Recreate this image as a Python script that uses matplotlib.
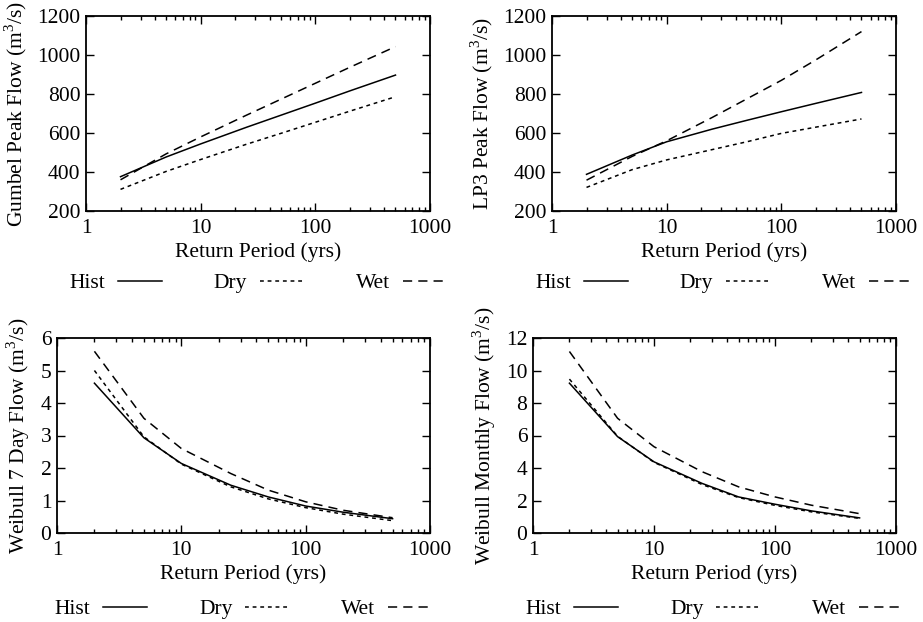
import numpy as np
import matplotlib
matplotlib.use("Agg")
import matplotlib.pyplot as plt

plt.rcParams['font.family'] = ['Liberation Serif', 'DejaVu Serif']
plt.rcParams['mathtext.fontset'] = 'custom'
plt.rcParams['mathtext.rm'] = 'Liberation Serif'
plt.rcParams['font.size'] = 15.5

# return periods (yrs)
periods = [2, 5, 10, 25, 50, 100, 200, 500]

# Gumbel peak flow (m3/s)
gumbel_hist = [376, 477, 544, 629, 691, 753, 816, 897]
gumbel_dry = [311, 403, 464, 542, 598, 655, 712, 786]
gumbel_wet = [360, 493, 580, 691, 773, 855, 937, 1043]

# LP3 peak flow (m3/s)
lp3_hist = [388, 487, 555, 620, 665, 709, 752, 808]
lp3_dry = [321, 412, 462, 515, 555, 598, 630, 672]
lp3_wet = [358, 480, 560, 680, 775, 870, 975, 1120]

# Weibull 7 day flow (m3/s)
w7_hist = [4.61, 2.93, 2.14, 1.47, 1.11, 0.83, 0.64, 0.44]
w7_dry = [5.00, 2.96, 2.12, 1.42, 1.05, 0.78, 0.58, 0.38]
w7_wet = [5.59, 3.53, 2.60, 1.83, 1.32, 0.96, 0.70, 0.47]

# Weibull monthly flow (m3/s)
wm_hist = [9.22, 5.93, 4.38, 3.05, 2.22, 1.77, 1.36, 0.93]
wm_dry = [9.47, 5.95, 4.35, 2.98, 2.18, 1.70, 1.30, 0.90]
wm_wet = [11.17, 7.06, 5.31, 3.77, 2.84, 2.22, 1.71, 1.19]

panels = [
    ("Gumbel Peak Flow", gumbel_hist, gumbel_dry, gumbel_wet, (200, 1200), np.arange(200, 1201, 200)),
    ("LP3 Peak Flow", lp3_hist, lp3_dry, lp3_wet, (200, 1200), np.arange(200, 1201, 200)),
    ("Weibull 7 Day Flow", w7_hist, w7_dry, w7_wet, (0, 6), np.arange(0, 7, 1)),
    ("Weibull Monthly Flow", wm_hist, wm_dry, wm_wet, (0, 12), np.arange(0, 13, 2)),
]

W, H = 923, 622
# axes boxes in pixels: left, top, right, bottom
boxes = [(86, 16, 430, 211), (552, 16, 896, 211), (57, 338, 430, 533), (533, 338, 896, 533)]
legend_y = [283, 283, 609, 609]

fig = plt.figure(figsize=(W / 100, H / 100), dpi=100)

for (name, hist, dry, wet, ylim, yt), (l, t, r, b), ly in zip(panels, boxes, legend_y):
    ax = fig.add_axes([l / W, 1 - b / H, (r - l) / W, (b - t) / H])
    ax.plot(periods, hist, color='black', lw=1.1, label='Hist')
    ax.plot(periods, dry, color='black', lw=1.1, dashes=(2.5, 2.5), label='Dry')
    ax.plot(periods, wet, color='black', lw=1.1, dashes=(6, 4), label='Wet')
    ax.set_xscale('log')
    ax.set_xlim(1, 1000)
    ax.set_ylim(*ylim)
    ax.set_yticks(yt)
    ax.set_xticks([1, 10, 100, 1000])
    ax.set_xticklabels(['1', '10', '100', '1000'])
    ax.tick_params(which='both', direction='in', top=True, right=True, labelsize=15.5)
    ax.tick_params(which='major', length=6, width=1, pad=4)
    ax.tick_params(axis='x', which='major', pad=6)
    ax.tick_params(which='minor', length=3, width=1)
    for s in ax.spines.values():
        s.set_linewidth(1.3)
    ax.set_xlabel('Return Period (yrs)', fontsize=15.5, labelpad=3)
    ax.set_ylabel(name + r' (m$^{\mathrm{3}}$/s)', fontsize=15.5, labelpad=6)
    cx = (l + r) / 2 / W
    fig.legend(handles=ax.get_lines(), loc='center', bbox_to_anchor=(cx, 1 - ly / H),
               ncol=3, frameon=False, markerfirst=False, handlelength=2.05,
               columnspacing=2.4, handletextpad=0.6, fontsize=15.5)

fig.savefig('out.png', dpi=100)
